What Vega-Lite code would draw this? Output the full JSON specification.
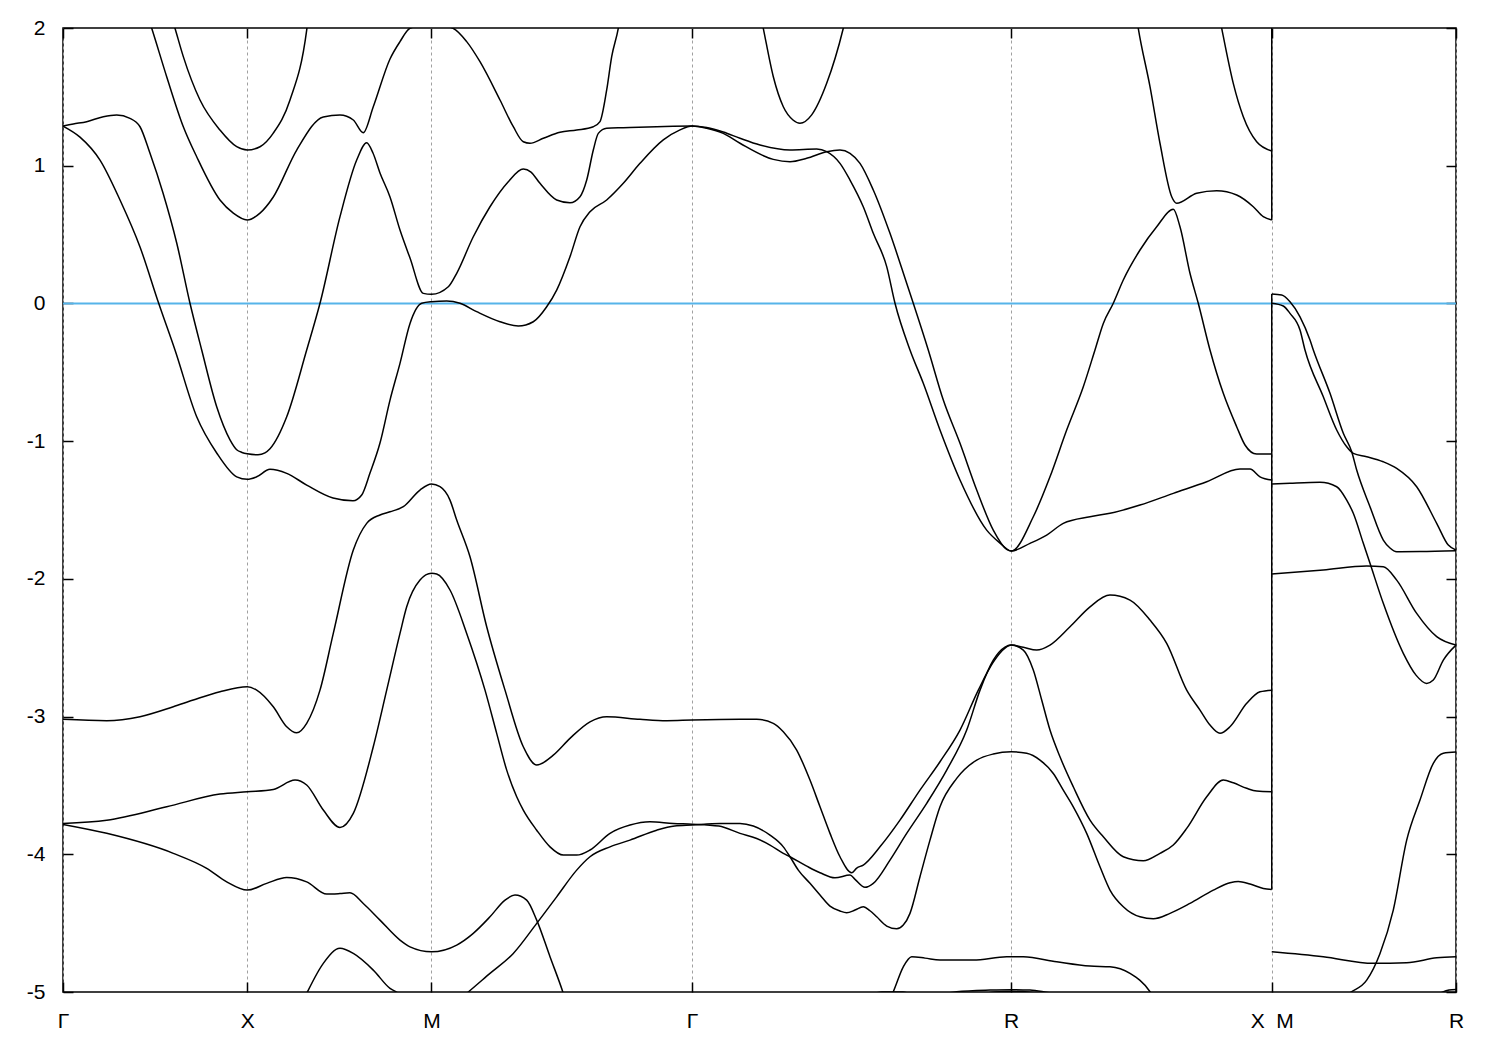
{
"$schema":"https://vega.github.io/schema/vega-lite/v6.json",
"width":1393,"height":964,
"autosize":{"type":"none"},
"padding":{"left":63,"top":28,"right":44,"bottom":58},
"background":"white",
"config":{
 "view":{"stroke":"#000","strokeWidth":1.5},
 "font":"Liberation Sans",
 "axis":{"labelFont":"Liberation Sans","labelFontSize":21,"labelColor":"#000","domain":false,"tickColor":"#000","tickWidth":1.5,"tickSize":-10,"title":null,"labelFlush":false,"labelOverlap":false,"labelBound":false}
},
"datasets":{
"vseg":[{"k":3.2802,"e1":2,"e2":0.606},{"k":3.2802,"e1":0.068,"e2":-4.255}],
"bands":[
{"b":"b1","k":0,"e":1.288},{"b":"b1","k":0.0461,"e":1.208},{"b":"b1","k":0.1004,"e":1.041},{"b":"b1","k":0.1547,"e":0.751},{"b":"b1","k":0.2090,"e":0.410},{"b":"b1","k":0.2594,"e":0.003},{"b":"b1","k":0.3039,"e":-0.338},{"b":"b1","k":0.3628,"e":-0.823},{"b":"b1","k":0.4171,"e":-1.086},{"b":"b1","k":0.4714,"e":-1.259},{"b":"b1","k":0.5,"e":-1.277},{"b":"b1","k":0.5256,"e":-1.259},{"b":"b1","k":0.5617,"e":-1.205},{"b":"b1","k":0.6071,"e":-1.234},{"b":"b1","k":0.6613,"e":-1.319},{"b":"b1","k":0.7327,"e":-1.413},{"b":"b1","k":0.7870,"e":-1.433},{"b":"b1","k":0.8106,"e":-1.391},{"b":"b1","k":0.8331,"e":-1.232},{"b":"b1","k":0.8602,"e":-1.014},{"b":"b1","k":0.8874,"e":-0.702},{"b":"b1","k":0.9145,"e":-0.435},{"b":"b1","k":0.9417,"e":-0.145},{"b":"b1","k":0.9734,"e":0.001},{"b":"b1","k":1.0,"e":0.012},{"b":"b1","k":1.0412,"e":0.017},{"b":"b1","k":1.0773,"e":0.001},{"b":"b1","k":1.1226,"e":-0.060},{"b":"b1","k":1.1859,"e":-0.133},{"b":"b1","k":1.2355,"e":-0.164},{"b":"b1","k":1.2762,"e":-0.133},{"b":"b1","k":1.3126,"e":-0.024},{"b":"b1","k":1.3397,"e":0.097},{"b":"b1","k":1.3758,"e":0.339},{"b":"b1","k":1.4030,"e":0.557},{"b":"b1","k":1.4301,"e":0.666},{"b":"b1","k":1.4754,"e":0.751},{"b":"b1","k":1.5205,"e":0.872},{"b":"b1","k":1.5658,"e":1.017},{"b":"b1","k":1.6290,"e":1.187},{"b":"b1","k":1.6744,"e":1.260},{"b":"b1","k":1.7071,"e":1.288},{"b":"b1","k":1.7468,"e":1.272},{"b":"b1","k":1.7918,"e":1.235},{"b":"b1","k":1.8372,"e":1.163},{"b":"b1","k":1.9275,"e":1.046},{"b":"b1","k":1.9729,"e":1.029},{"b":"b1","k":2.0182,"e":1.054},{"b":"b1","k":2.0725,"e":1.102},{"b":"b1","k":2.1085,"e":1.114},{"b":"b1","k":2.1357,"e":1.090},{"b":"b1","k":2.1628,"e":1.017},{"b":"b1","k":2.1989,"e":0.824},{"b":"b1","k":2.2442,"e":0.509},{"b":"b1","k":2.2895,"e":0.146},{"b":"b1","k":2.3074,"e":0.001},{"b":"b1","k":2.3481,"e":-0.338},{"b":"b1","k":2.3889,"e":-0.702},{"b":"b1","k":2.4342,"e":-1.016},{"b":"b1","k":2.4795,"e":-1.355},{"b":"b1","k":2.5245,"e":-1.646},{"b":"b1","k":2.5609,"e":-1.786},{"b":"b1","k":2.5731,"e":-1.798},{"b":"b1","k":2.6331,"e":-1.549},{"b":"b1","k":2.6784,"e":-1.259},{"b":"b1","k":2.7237,"e":-0.919},{"b":"b1","k":2.7688,"e":-0.605},{"b":"b1","k":2.8005,"e":-0.338},{"b":"b1","k":2.8231,"e":-0.145},{"b":"b1","k":2.8502,"e":0.001},{"b":"b1","k":2.8773,"e":0.170},{"b":"b1","k":2.9227,"e":0.388},{"b":"b1","k":2.9680,"e":0.557},{"b":"b1","k":3.0130,"e":0.683},{"b":"b1","k":3.0312,"e":0.557},{"b":"b1","k":3.0583,"e":0.219},{"b":"b1","k":3.0808,"e":0.001},{"b":"b1","k":3.1126,"e":-0.338},{"b":"b1","k":3.1487,"e":-0.653},{"b":"b1","k":3.1850,"e":-0.895},{"b":"b1","k":3.2076,"e":-1.028},{"b":"b1","k":3.2393,"e":-1.094},{"b":"b1","k":3.2802,"e":-1.094},
{"b":"b2","k":0,"e":1.288},{"b":"b2","k":0.0280,"e":1.303},{"b":"b2","k":0.0643,"e":1.320},{"b":"b2","k":0.1094,"e":1.356},{"b":"b2","k":0.1457,"e":1.368},{"b":"b2","k":0.1818,"e":1.344},{"b":"b2","k":0.2090,"e":1.283},{"b":"b2","k":0.2361,"e":1.090},{"b":"b2","k":0.2714,"e":0.802},{"b":"b2","k":0.3086,"e":0.439},{"b":"b2","k":0.3446,"e":0.001},{"b":"b2","k":0.3764,"e":-0.338},{"b":"b2","k":0.4171,"e":-0.750},{"b":"b2","k":0.4532,"e":-0.990},{"b":"b2","k":0.4714,"e":-1.062},{"b":"b2","k":0.4857,"e":-1.082},{"b":"b2","k":0.5,"e":-1.092},{"b":"b2","k":0.5292,"e":-1.099},{"b":"b2","k":0.5480,"e":-1.085},{"b":"b2","k":0.5617,"e":-1.055},{"b":"b2","k":0.6071,"e":-0.823},{"b":"b2","k":0.6613,"e":-0.338},{"b":"b2","k":0.6974,"e":0.001},{"b":"b2","k":0.7517,"e":0.630},{"b":"b2","k":0.7970,"e":1.041},{"b":"b2","k":0.8241,"e":1.167},{"b":"b2","k":0.8412,"e":1.092},{"b":"b2","k":0.8602,"e":0.947},{"b":"b2","k":0.8874,"e":0.773},{"b":"b2","k":0.9145,"e":0.533},{"b":"b2","k":0.9417,"e":0.330},{"b":"b2","k":0.9778,"e":0.073},{"b":"b2","k":1.0,"e":0.066},{"b":"b2","k":1.0456,"e":0.121},{"b":"b2","k":1.0684,"e":0.219},{"b":"b2","k":1.1134,"e":0.484},{"b":"b2","k":1.1587,"e":0.702},{"b":"b2","k":1.2084,"e":0.884},{"b":"b2","k":1.2491,"e":0.976},{"b":"b2","k":1.2700,"e":0.954},{"b":"b2","k":1.2944,"e":0.872},{"b":"b2","k":1.3397,"e":0.751},{"b":"b2","k":1.3758,"e":0.731},{"b":"b2","k":1.4030,"e":0.775},{"b":"b2","k":1.4212,"e":0.896},{"b":"b2","k":1.4391,"e":1.114},{"b":"b2","k":1.4527,"e":1.235},{"b":"b2","k":1.4754,"e":1.272},{"b":"b2","k":1.5205,"e":1.276},{"b":"b2","k":1.6111,"e":1.283},{"b":"b2","k":1.7071,"e":1.288},{"b":"b2","k":1.7468,"e":1.277},{"b":"b2","k":1.7918,"e":1.245},{"b":"b2","k":1.8372,"e":1.199},{"b":"b2","k":1.8915,"e":1.150},{"b":"b2","k":1.9729,"e":1.114},{"b":"b2","k":2.0453,"e":1.121},{"b":"b2","k":2.0725,"e":1.102},{"b":"b2","k":2.1085,"e":1.017},{"b":"b2","k":2.1357,"e":0.896},{"b":"b2","k":2.1717,"e":0.702},{"b":"b2","k":2.1989,"e":0.509},{"b":"b2","k":2.2353,"e":0.267},{"b":"b2","k":2.2578,"e":0.001},{"b":"b2","k":2.2985,"e":-0.338},{"b":"b2","k":2.3346,"e":-0.580},{"b":"b2","k":2.3799,"e":-0.919},{"b":"b2","k":2.4342,"e":-1.282},{"b":"b2","k":2.5066,"e":-1.646},{"b":"b2","k":2.5427,"e":-1.740},{"b":"b2","k":2.5731,"e":-1.798},{"b":"b2","k":2.6241,"e":-1.742},{"b":"b2","k":2.6694,"e":-1.682},{"b":"b2","k":2.7145,"e":-1.597},{"b":"b2","k":2.7870,"e":-1.549},{"b":"b2","k":2.8412,"e":-1.524},{"b":"b2","k":2.9227,"e":-1.464},{"b":"b2","k":3.0130,"e":-1.379},{"b":"b2","k":3.1037,"e":-1.295},{"b":"b2","k":3.1940,"e":-1.203},{"b":"b2","k":3.2212,"e":-1.203},{"b":"b2","k":3.2483,"e":-1.259},{"b":"b2","k":3.2802,"e":-1.283},
{"b":"b3","k":0.2307,"e":2.08},{"b":"b3","k":0.2407,"e":1.998},{"b":"b3","k":0.2814,"e":1.646},{"b":"b3","k":0.3265,"e":1.283},{"b":"b3","k":0.3628,"e":1.065},{"b":"b3","k":0.4260,"e":0.751},{"b":"b3","k":0.4622,"e":0.656},{"b":"b3","k":0.5,"e":0.606},{"b":"b3","k":0.5346,"e":0.656},{"b":"b3","k":0.5707,"e":0.773},{"b":"b3","k":0.6342,"e":1.114},{"b":"b3","k":0.7064,"e":1.354},{"b":"b3","k":0.7517,"e":1.368},{"b":"b3","k":0.7878,"e":1.332},{"b":"b3","k":0.8149,"e":1.240},{"b":"b3","k":0.8420,"e":1.428},{"b":"b3","k":0.8874,"e":1.775},{"b":"b3","k":0.9145,"e":1.901},{"b":"b3","k":0.9417,"e":1.998},{"b":"b3","k":1.0,"e":2.03},{"b":"b3","k":1.0583,"e":1.998},{"b":"b3","k":1.0955,"e":1.901},{"b":"b3","k":1.1316,"e":1.755},{"b":"b3","k":1.1859,"e":1.477},{"b":"b3","k":1.2220,"e":1.283},{"b":"b3","k":1.2491,"e":1.174},{"b":"b3","k":1.2673,"e":1.163},{"b":"b3","k":1.3034,"e":1.199},{"b":"b3","k":1.3487,"e":1.243},{"b":"b3","k":1.3940,"e":1.259},{"b":"b3","k":1.4391,"e":1.283},{"b":"b3","k":1.4572,"e":1.320},{"b":"b3","k":1.4754,"e":1.550},{"b":"b3","k":1.4890,"e":1.792},{"b":"b3","k":1.5069,"e":1.998},{"b":"b3","k":1.5115,"e":2.07},
{"b":"b4","k":0.2958,"e":2.07},{"b":"b4","k":0.3039,"e":1.998},{"b":"b4","k":0.3265,"e":1.792},{"b":"b4","k":0.3718,"e":1.477},{"b":"b4","k":0.4260,"e":1.259},{"b":"b4","k":0.4714,"e":1.138},{"b":"b4","k":0.5,"e":1.114},{"b":"b4","k":0.5346,"e":1.138},{"b":"b4","k":0.5707,"e":1.237},{"b":"b4","k":0.6160,"e":1.477},{"b":"b4","k":0.6613,"e":1.985},{"b":"b4","k":0.6649,"e":2.06},
{"b":"b5","k":1.8942,"e":2.08},{"b":"b5","k":1.9004,"e":1.998},{"b":"b5","k":1.9276,"e":1.646},{"b":"b5","k":1.9547,"e":1.428},{"b":"b5","k":1.9810,"e":1.332},{"b":"b5","k":2.0,"e":1.308},{"b":"b5","k":2.0317,"e":1.369},{"b":"b5","k":2.0724,"e":1.598},{"b":"b5","k":2.1175,"e":1.998},{"b":"b5","k":2.1248,"e":2.08},
{"b":"b6","k":2.9131,"e":2.08},{"b":"b6","k":2.9180,"e":1.998},{"b":"b6","k":2.9498,"e":1.574},{"b":"b6","k":2.9769,"e":1.163},{"b":"b6","k":3.0087,"e":0.775},{"b":"b6","k":3.0222,"e":0.727},{"b":"b6","k":3.0765,"e":0.800},{"b":"b6","k":3.1308,"e":0.818},{"b":"b6","k":3.1851,"e":0.787},{"b":"b6","k":3.2301,"e":0.702},{"b":"b6","k":3.2572,"e":0.630},{"b":"b6","k":3.2802,"e":0.606},
{"b":"b7","k":3.1384,"e":2.08},{"b":"b7","k":3.1444,"e":1.998},{"b":"b7","k":3.1758,"e":1.598},{"b":"b7","k":3.2030,"e":1.356},{"b":"b7","k":3.2393,"e":1.174},{"b":"b7","k":3.2802,"e":1.107},
{"b":"bA","k":3.2802,"e":0.068},{"b":"bA","k":3.3072,"e":0.061},{"b":"bA","k":3.3297,"e":0.012},{"b":"bA","k":3.3569,"e":-0.097},{"b":"bA","k":3.3840,"e":-0.266},{"b":"bA","k":3.3930,"e":-0.338},{"b":"bA","k":3.4383,"e":-0.653},{"b":"bA","k":3.4744,"e":-0.943},{"b":"bA","k":3.4972,"e":-1.077},{"b":"bA","k":3.5107,"e":-1.210},{"b":"bA","k":3.5468,"e":-1.476},{"b":"bA","k":3.5829,"e":-1.718},{"b":"bA","k":3.6011,"e":-1.776},{"b":"bA","k":3.6193,"e":-1.803},{"b":"bA","k":3.6825,"e":-1.802},{"b":"bA","k":3.7802,"e":-1.796},
{"b":"bB","k":3.2802,"e":0.001},{"b":"bB","k":3.3115,"e":-0.019},{"b":"bB","k":3.3297,"e":-0.072},{"b":"bB","k":3.3569,"e":-0.193},{"b":"bB","k":3.3704,"e":-0.338},{"b":"bB","k":3.4201,"e":-0.678},{"b":"bB","k":3.4564,"e":-0.919},{"b":"bB","k":3.4836,"e":-1.041},{"b":"bB","k":3.5015,"e":-1.089},{"b":"bB","k":3.5379,"e":-1.113},{"b":"bB","k":3.5829,"e":-1.150},{"b":"bB","k":3.6193,"e":-1.198},{"b":"bB","k":3.6735,"e":-1.331},{"b":"bB","k":3.7278,"e":-1.597},{"b":"bB","k":3.7593,"e":-1.755},{"b":"bB","k":3.7802,"e":-1.791},
{"b":"bC","k":3.2802,"e":-1.312},{"b":"bC","k":3.3297,"e":-1.306},{"b":"bC","k":3.4111,"e":-1.299},{"b":"bC","k":3.4564,"e":-1.331},{"b":"bC","k":3.4836,"e":-1.428},{"b":"bC","k":3.5015,"e":-1.524},{"b":"bC","k":3.5287,"e":-1.742},{"b":"bC","k":3.5468,"e":-1.887},{"b":"bC","k":3.5829,"e":-2.178},{"b":"bC","k":3.6372,"e":-2.541},{"b":"bC","k":3.6716,"e":-2.699},{"b":"bC","k":3.7007,"e":-2.759},{"b":"bC","k":3.7186,"e":-2.735},{"b":"bC","k":3.7458,"e":-2.590},{"b":"bC","k":3.7802,"e":-2.481},
{"b":"bD","k":3.2802,"e":-1.965},{"b":"bD","k":3.4201,"e":-1.936},{"b":"bD","k":3.5379,"e":-1.907},{"b":"bD","k":3.5829,"e":-1.912},{"b":"bD","k":3.6193,"e":-2.009},{"b":"bD","k":3.6735,"e":-2.251},{"b":"bD","k":3.7278,"e":-2.420},{"b":"bD","k":3.7802,"e":-2.481},
{"b":"bE","k":3.2802,"e":-4.708},{"b":"bE","k":3.4201,"e":-4.744},{"b":"bE","k":3.5558,"e":-4.792},{"b":"bE","k":3.6464,"e":-4.788},{"b":"bE","k":3.7278,"e":-4.752},{"b":"bE","k":3.7802,"e":-4.744},
{"b":"bF","k":3.4654,"e":-5.063},{"b":"bF","k":3.4925,"e":-5.006},{"b":"bF","k":3.5379,"e":-4.914},{"b":"bF","k":3.5740,"e":-4.720},{"b":"bF","k":3.6100,"e":-4.405},{"b":"bF","k":3.6464,"e":-3.897},{"b":"bF","k":3.6825,"e":-3.606},{"b":"bF","k":3.7186,"e":-3.340},{"b":"bF","k":3.7458,"e":-3.267},{"b":"bF","k":3.7802,"e":-3.258},
{"b":"bG","k":3.7137,"e":-5.03},{"b":"bG","k":3.7341,"e":-5.01},{"b":"bG","k":3.7612,"e":-4.986},{"b":"bG","k":3.7802,"e":-4.981},
{"b":"bH","k":0,"e":-3.020},{"b":"bH","k":0.1186,"e":-3.030},{"b":"bH","k":0.2090,"e":-3.001},{"b":"bH","k":0.2993,"e":-2.929},{"b":"bH","k":0.3536,"e":-2.880},{"b":"bH","k":0.4260,"e":-2.820},{"b":"bH","k":0.5,"e":-2.784},{"b":"bH","k":0.5256,"e":-2.808},{"b":"bH","k":0.5707,"e":-2.929},{"b":"bH","k":0.6071,"e":-3.074},{"b":"bH","k":0.6342,"e":-3.118},{"b":"bH","k":0.6613,"e":-3.049},{"b":"bH","k":0.6974,"e":-2.808},{"b":"bH","k":0.7335,"e":-2.396},{"b":"bH","k":0.7878,"e":-1.791},{"b":"bH","k":0.8241,"e":-1.597},{"b":"bH","k":0.8602,"e":-1.536},{"b":"bH","k":0.8874,"e":-1.513},{"b":"bH","k":0.9235,"e":-1.476},{"b":"bH","k":0.9688,"e":-1.355},{"b":"bH","k":1.0,"e":-1.312},{"b":"bH","k":1.0231,"e":-1.331},{"b":"bH","k":1.0502,"e":-1.428},{"b":"bH","k":1.0684,"e":-1.573},{"b":"bH","k":1.1045,"e":-1.840},{"b":"bH","k":1.1498,"e":-2.348},{"b":"bH","k":1.1995,"e":-2.808},{"b":"bH","k":1.2491,"e":-3.219},{"b":"bH","k":1.2855,"e":-3.352},{"b":"bH","k":1.3305,"e":-3.280},{"b":"bH","k":1.3758,"e":-3.158},{"b":"bH","k":1.4301,"e":-3.038},{"b":"bH","k":1.4754,"e":-3.001},{"b":"bH","k":1.5658,"e":-3.020},{"b":"bH","k":1.6382,"e":-3.030},{"b":"bH","k":1.7071,"e":-3.025},{"b":"bH","k":1.8372,"e":-3.020},{"b":"bH","k":1.8825,"e":-3.020},{"b":"bH","k":1.9275,"e":-3.049},{"b":"bH","k":1.9547,"e":-3.110},{"b":"bH","k":1.9910,"e":-3.243},{"b":"bH","k":2.0271,"e":-3.461},{"b":"bH","k":2.0543,"e":-3.655},{"b":"bH","k":2.0814,"e":-3.848},{"b":"bH","k":2.1085,"e":-4.018},{"b":"bH","k":2.1403,"e":-4.134},{"b":"bH","k":2.1539,"e":-4.100},{"b":"bH","k":2.1717,"e":-4.078},{"b":"bH","k":2.2170,"e":-3.946},{"b":"bH","k":2.2713,"e":-3.752},{"b":"bH","k":2.3256,"e":-3.534},{"b":"bH","k":2.3799,"e":-3.328},{"b":"bH","k":2.4342,"e":-3.098},{"b":"bH","k":2.4839,"e":-2.808},{"b":"bH","k":2.5245,"e":-2.604},{"b":"bH","k":2.5563,"e":-2.503},{"b":"bH","k":2.5731,"e":-2.481},{"b":"bH","k":2.6060,"e":-2.497},{"b":"bH","k":2.6423,"e":-2.517},{"b":"bH","k":2.6784,"e":-2.481},{"b":"bH","k":2.7327,"e":-2.348},{"b":"bH","k":2.7870,"e":-2.203},{"b":"bH","k":2.8412,"e":-2.118},{"b":"bH","k":2.8955,"e":-2.154},{"b":"bH","k":2.9498,"e":-2.299},{"b":"bH","k":2.9951,"e":-2.468},{"b":"bH","k":3.0494,"e":-2.808},{"b":"bH","k":3.0855,"e":-2.953},{"b":"bH","k":3.1126,"e":-3.062},{"b":"bH","k":3.1397,"e":-3.122},{"b":"bH","k":3.1669,"e":-3.074},{"b":"bH","k":3.2122,"e":-2.904},{"b":"bH","k":3.2483,"e":-2.820},{"b":"bH","k":3.2802,"e":-2.808},
{"b":"bI","k":0,"e":-3.776},{"b":"bI","k":0.1186,"e":-3.752},{"b":"bI","k":0.2814,"e":-3.655},{"b":"bI","k":0.4260,"e":-3.563},{"b":"bI","k":0.5,"e":-3.546},{"b":"bI","k":0.5707,"e":-3.529},{"b":"bI","k":0.6296,"e":-3.461},{"b":"bI","k":0.6613,"e":-3.497},{"b":"bI","k":0.7064,"e":-3.679},{"b":"bI","k":0.7517,"e":-3.805},{"b":"bI","k":0.7878,"e":-3.703},{"b":"bI","k":0.8420,"e":-3.219},{"b":"bI","k":0.8784,"e":-2.808},{"b":"bI","k":0.9145,"e":-2.396},{"b":"bI","k":0.9327,"e":-2.203},{"b":"bI","k":0.9688,"e":-2.009},{"b":"bI","k":1.0,"e":-1.960},{"b":"bI","k":1.0141,"e":-1.965},{"b":"bI","k":1.0502,"e":-2.081},{"b":"bI","k":1.0955,"e":-2.396},{"b":"bI","k":1.1452,"e":-2.808},{"b":"bI","k":1.1769,"e":-3.122},{"b":"bI","k":1.2041,"e":-3.389},{"b":"bI","k":1.2312,"e":-3.582},{"b":"bI","k":1.2491,"e":-3.679},{"b":"bI","k":1.2855,"e":-3.825},{"b":"bI","k":1.3216,"e":-3.946},{"b":"bI","k":1.3577,"e":-4.006},{"b":"bI","k":1.3940,"e":-4.006},{"b":"bI","k":1.4301,"e":-3.969},{"b":"bI","k":1.4844,"e":-3.848},{"b":"bI","k":1.5387,"e":-3.788},{"b":"bI","k":1.5929,"e":-3.764},{"b":"bI","k":1.6562,"e":-3.776},{"b":"bI","k":1.7071,"e":-3.781},{"b":"bI","k":1.7800,"e":-3.795},{"b":"bI","k":1.8372,"e":-3.848},{"b":"bI","k":1.8825,"e":-3.885},{"b":"bI","k":1.9186,"e":-3.933},{"b":"bI","k":1.9547,"e":-3.993},{"b":"bI","k":1.9729,"e":-4.018},{"b":"bI","k":2.0182,"e":-4.086},{"b":"bI","k":2.0543,"e":-4.134},{"b":"bI","k":2.0950,"e":-4.171},{"b":"bI","k":2.1357,"e":-4.151},{"b":"bI","k":2.1493,"e":-4.182},{"b":"bI","k":2.1764,"e":-4.240},{"b":"bI","k":2.1989,"e":-4.211},{"b":"bI","k":2.2442,"e":-4.042},{"b":"bI","k":2.2895,"e":-3.848},{"b":"bI","k":2.3438,"e":-3.630},{"b":"bI","k":2.3981,"e":-3.389},{"b":"bI","k":2.4524,"e":-3.098},{"b":"bI","k":2.4885,"e":-2.808},{"b":"bI","k":2.5245,"e":-2.590},{"b":"bI","k":2.5563,"e":-2.495},{"b":"bI","k":2.5731,"e":-2.481},{"b":"bI","k":2.6060,"e":-2.517},{"b":"bI","k":2.6331,"e":-2.662},{"b":"bI","k":2.6559,"e":-2.880},{"b":"bI","k":2.6784,"e":-3.098},{"b":"bI","k":2.7055,"e":-3.292},{"b":"bI","k":2.7416,"e":-3.510},{"b":"bI","k":2.7870,"e":-3.752},{"b":"bI","k":2.8231,"e":-3.873},{"b":"bI","k":2.8773,"e":-4.018},{"b":"bI","k":2.9316,"e":-4.047},{"b":"bI","k":2.9769,"e":-3.993},{"b":"bI","k":3.0130,"e":-3.933},{"b":"bI","k":3.0494,"e":-3.812},{"b":"bI","k":3.1037,"e":-3.582},{"b":"bI","k":3.1487,"e":-3.461},{"b":"bI","k":3.1758,"e":-3.481},{"b":"bI","k":3.2122,"e":-3.521},{"b":"bI","k":3.2393,"e":-3.541},{"b":"bI","k":3.2802,"e":-3.546},
{"b":"bJ","k":0,"e":-3.783},{"b":"bJ","k":0.1186,"e":-3.848},{"b":"bJ","k":0.2993,"e":-3.993},{"b":"bJ","k":0.3900,"e":-4.102},{"b":"bJ","k":0.4442,"e":-4.200},{"b":"bJ","k":0.5,"e":-4.260},{"b":"bJ","k":0.5528,"e":-4.211},{"b":"bJ","k":0.6071,"e":-4.168},{"b":"bJ","k":0.6613,"e":-4.200},{"b":"bJ","k":0.7156,"e":-4.289},{"b":"bJ","k":0.7517,"e":-4.285},{"b":"bJ","k":0.7788,"e":-4.280},{"b":"bJ","k":0.8149,"e":-4.357},{"b":"bJ","k":0.8602,"e":-4.478},{"b":"bJ","k":0.9145,"e":-4.623},{"b":"bJ","k":0.9417,"e":-4.672},{"b":"bJ","k":1.0,"e":-4.708},{"b":"bJ","k":1.0684,"e":-4.659},{"b":"bJ","k":1.1134,"e":-4.574},{"b":"bJ","k":1.1587,"e":-4.454},{"b":"bJ","k":1.1995,"e":-4.333},{"b":"bJ","k":1.2266,"e":-4.296},{"b":"bJ","k":1.2583,"e":-4.333},{"b":"bJ","k":1.2855,"e":-4.478},{"b":"bJ","k":1.3216,"e":-4.744},{"b":"bJ","k":1.3577,"e":-5.010},{"b":"bJ","k":1.3677,"e":-5.095},
{"b":"bK","k":1.0638,"e":-5.080},{"b":"bK","k":1.0955,"e":-5.010},{"b":"bK","k":1.1587,"e":-4.865},{"b":"bK","k":1.2220,"e":-4.720},{"b":"bK","k":1.2855,"e":-4.502},{"b":"bK","k":1.3397,"e":-4.309},{"b":"bK","k":1.3940,"e":-4.115},{"b":"bK","k":1.4301,"e":-4.018},{"b":"bK","k":1.4844,"e":-3.946},{"b":"bK","k":1.5387,"e":-3.897},{"b":"bK","k":1.6111,"e":-3.825},{"b":"bK","k":1.6600,"e":-3.795},{"b":"bK","k":1.7071,"e":-3.788},{"b":"bK","k":1.7828,"e":-3.777},{"b":"bK","k":1.8372,"e":-3.776},{"b":"bK","k":1.8733,"e":-3.795},{"b":"bK","k":1.9186,"e":-3.861},{"b":"bK","k":1.9547,"e":-3.946},{"b":"bK","k":1.9729,"e":-4.018},{"b":"bK","k":1.9954,"e":-4.115},{"b":"bK","k":2.0271,"e":-4.211},{"b":"bK","k":2.0543,"e":-4.296},{"b":"bK","k":2.0814,"e":-4.376},{"b":"bK","k":2.1085,"e":-4.412},{"b":"bK","k":2.1267,"e":-4.425},{"b":"bK","k":2.1493,"e":-4.405},{"b":"bK","k":2.1717,"e":-4.381},{"b":"bK","k":2.1899,"e":-4.410},{"b":"bK","k":2.2081,"e":-4.454},{"b":"bK","k":2.2353,"e":-4.521},{"b":"bK","k":2.2624,"e":-4.541},{"b":"bK","k":2.2803,"e":-4.514},{"b":"bK","k":2.2985,"e":-4.429},{"b":"bK","k":2.3256,"e":-4.163},{"b":"bK","k":2.3527,"e":-3.897},{"b":"bK","k":2.3799,"e":-3.655},{"b":"bK","k":2.4252,"e":-3.449},{"b":"bK","k":2.4795,"e":-3.316},{"b":"bK","k":2.5245,"e":-3.272},{"b":"bK","k":2.5731,"e":-3.256},{"b":"bK","k":2.6152,"e":-3.267},{"b":"bK","k":2.6513,"e":-3.316},{"b":"bK","k":2.6874,"e":-3.413},{"b":"bK","k":2.7145,"e":-3.534},{"b":"bK","k":2.7416,"e":-3.655},{"b":"bK","k":2.7780,"e":-3.848},{"b":"bK","k":2.8141,"e":-4.091},{"b":"bK","k":2.8412,"e":-4.260},{"b":"bK","k":2.8773,"e":-4.381},{"b":"bK","k":2.9227,"e":-4.454},{"b":"bK","k":2.9588,"e":-4.468},{"b":"bK","k":3.0041,"e":-4.429},{"b":"bK","k":3.0583,"e":-4.357},{"b":"bK","k":3.1216,"e":-4.260},{"b":"bK","k":3.1669,"e":-4.207},{"b":"bK","k":3.1894,"e":-4.197},{"b":"bK","k":3.2212,"e":-4.216},{"b":"bK","k":3.2573,"e":-4.248},{"b":"bK","k":3.2802,"e":-4.255},
{"b":"bL","k":0.6486,"e":-5.080},{"b":"bL","k":0.6613,"e":-5.010},{"b":"bL","k":0.7064,"e":-4.792},{"b":"bL","k":0.7517,"e":-4.683},{"b":"bL","k":0.7878,"e":-4.720},{"b":"bL","k":0.8420,"e":-4.841},{"b":"bL","k":0.8874,"e":-4.974},{"b":"bL","k":0.9099,"e":-5.010},{"b":"bL","k":0.9227,"e":-5.044},
{"b":"bM","k":2.2388,"e":-5.080},{"b":"bM","k":2.2531,"e":-4.998},{"b":"bM","k":2.2803,"e":-4.817},{"b":"bM","k":2.3031,"e":-4.744},{"b":"bM","k":2.3392,"e":-4.754},{"b":"bM","k":2.3799,"e":-4.768},{"b":"bM","k":2.4703,"e":-4.768},{"b":"bM","k":2.5609,"e":-4.744},{"b":"bM","k":2.6060,"e":-4.744},{"b":"bM","k":2.6966,"e":-4.781},{"b":"bM","k":2.7870,"e":-4.812},{"b":"bM","k":2.8412,"e":-4.817},{"b":"bM","k":2.8955,"e":-4.865},{"b":"bM","k":2.9498,"e":-4.998},{"b":"bM","k":2.9634,"e":-5.058},
{"b":"bN1","k":2.3799,"e":-5.022},{"b":"bN1","k":2.4252,"e":-4.998},{"b":"bN1","k":2.5156,"e":-4.986},{"b":"bN1","k":2.5753,"e":-4.983},{"b":"bN1","k":2.6241,"e":-4.986},{"b":"bN1","k":2.6602,"e":-4.998},{"b":"bN1","k":2.7055,"e":-5.022},
{"b":"bN2","k":2.4749,"e":-5.022},{"b":"bN2","k":2.5292,"e":-5.000},{"b":"bN2","k":2.5753,"e":-4.995},{"b":"bN2","k":2.6187,"e":-5.000},{"b":"bN2","k":2.6730,"e":-5.022},
{"b":"bN3","k":2.1899,"e":-5.022},{"b":"bN3","k":2.2225,"e":-5.000},{"b":"bN3","k":2.2795,"e":-5.000},{"b":"bN3","k":2.3039,"e":-5.022}
]},
"layer":[
 {"data":{"values":[{}]},
  "mark":{"type":"rule","color":"#56b4e9","strokeWidth":2},
  "encoding":{"y":{"datum":0,"type":"quantitative","axis":null}}},
 {"data":{"name":"bands"},
  "mark":{"type":"line","color":"#000","strokeWidth":1.5,"clip":true,"interpolate":"monotone"},
  "encoding":{
   "x":{"field":"k","type":"quantitative","scale":{"domain":[0,3.7802],"nice":false,"zero":false},
        "axis":{"orient":"bottom","values":[0,0.5,1,1.7071,2.5731,3.2802,3.7802],
          "labelExpr":"datum.value < 0.25 ? 'Γ' : datum.value < 0.75 ? 'X' : datum.value < 1.3 ? 'M' : datum.value < 2.1 ? 'Γ' : datum.value < 2.9 ? 'R' : datum.value < 3.5 ? 'X\u00a0\u00a0M' : 'R'",
          "grid":true,"gridDash":[3,3],"gridColor":"#a0a0a0","gridWidth":1,"labelPadding":28,"labelBaseline":"top"}},
   "y":{"field":"e","type":"quantitative","scale":{"domain":[-5,2],"nice":false,"zero":false},
        "axis":{"orient":"left","values":[-5,-4,-3,-2,-1,0,1,2],"grid":false,"labelPadding":28,
          "labelExpr":"datum.value < 0 ? '-' + abs(datum.value) : '' + datum.value"}},
   "detail":{"field":"b","type":"nominal"}}},
 {"data":{"name":"vseg"},
  "mark":{"type":"rule","color":"#000","strokeWidth":1.5},
  "encoding":{
   "x":{"field":"k","type":"quantitative","axis":{"orient":"top","labels":false,"grid":false,"values":[0,0.5,1,1.7071,2.5731,3.2802,3.7802]}},
   "y":{"field":"e1","type":"quantitative","axis":{"orient":"right","labels":false,"grid":false,"values":[-5,-4,-3,-2,-1,0,1,2]}},
   "y2":{"field":"e2"}}}
],
"resolve":{"axis":{"x":"independent","y":"independent"}}
}
